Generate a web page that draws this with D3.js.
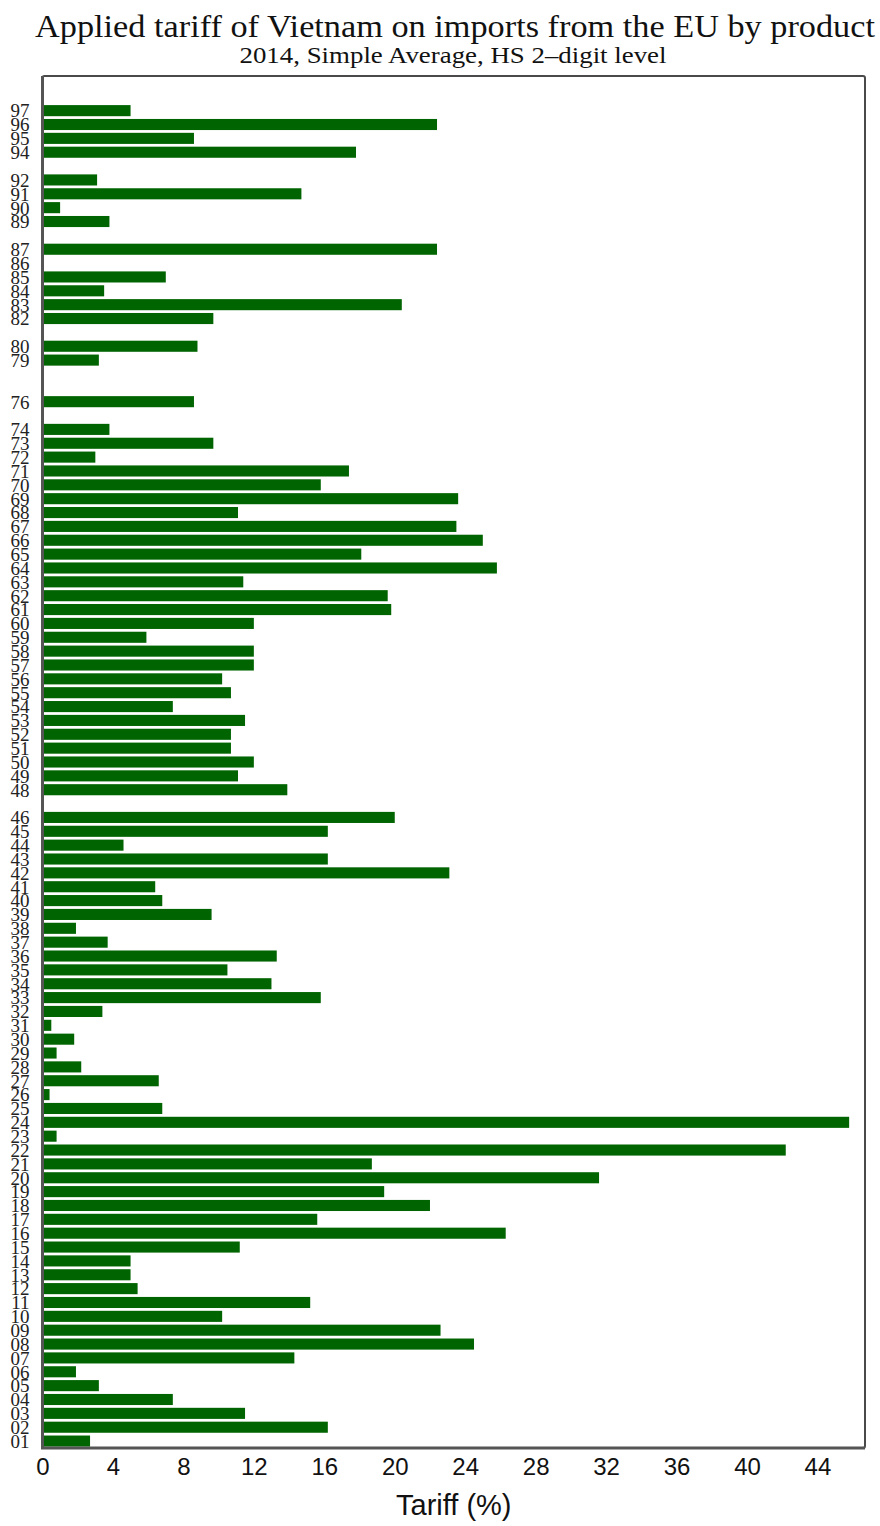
<!DOCTYPE html>
<html>
<head>
<meta charset="utf-8">
<script src="https://cdn.jsdelivr.net/npm/d3@7"></script>
<style>
  body { margin: 0; background: #fff; }
  svg { display: block; }
</style>
</head>
<body>
<svg width="880" height="1526"></svg>
<script>
// HS 2-digit product codes and their applied tariff (%), 2014
const codes = ['01','02','03','04','05','06','07','08','09','10',
  '11','12','13','14','15','16','17','18','19','20',
  '21','22','23','24','25','26','27','28','29','30',
  '31','32','33','34','35','36','37','38','39','40',
  '41','42','43','44','45','46','48','49','50','51',
  '52','53','54','55','56','57','58','59','60','61',
  '62','63','64','65','66','67','68','69','70','71',
  '72','73','74','76','79','80','82','83','84','85',
  '86','87','89','90','91','92','94','95','96','97']
const tariffs = [2.7, 16.2, 11.5, 7.4, 3.2, 1.9, 14.3, 24.5, 22.6, 10.2,
  15.2, 5.4, 5.0, 5.0, 11.2, 26.3, 15.6, 22.0, 19.4, 31.6,
  18.7, 42.2, 0.8, 45.8, 6.8, 0.4, 6.6, 2.2, 0.8, 1.8,
  0.5, 3.4, 15.8, 13.0, 10.5, 13.3, 3.7, 1.9, 9.6, 6.8,
  6.4, 23.1, 16.2, 4.6, 16.2, 20.0, 13.9, 11.1, 12.0, 10.7,
  10.7, 11.5, 7.4, 10.7, 10.2, 12.0, 12.0, 5.9, 12.0, 19.8,
  19.6, 11.4, 25.8, 18.1, 25.0, 23.5, 11.1, 23.6, 15.8, 17.4,
  3.0, 9.7, 3.8, 8.6, 3.2, 8.8, 9.7, 20.4, 3.5, 7.0,
  0, 22.4, 3.8, 1.0, 14.7, 3.1, 17.8, 8.6, 22.4, 5.0]
const xTicks = [0, 4, 8, 12, 16, 20, 24, 28, 32, 36, 40, 44]

const title = 'Applied tariff of Vietnam on imports from the EU by product'
const subtitle = '2014, Simple Average, HS 2\u2013digit level'
const xLabel = 'Tariff (%)'

const data = codes.map((c, i) => ({ code: c, value: tariffs[i] }))

const svg = d3.select('svg')
const margin = { top: 76, right: 15, bottom: 78, left: 42.5 }
const width = +svg.attr('width')
const height = +svg.attr('height')
const plotRight = width - margin.right
const plotBottom = height - margin.bottom

const x = d3.scaleLinear()
  .domain([0, 46.7])
  .range([margin.left, plotRight])

// one slot per HS chapter number, empty chapters keep their space
const y = d3.scaleBand()
  .domain(d3.range(1, 100))
  .range([plotBottom, margin.top])
  .paddingInner(0.2)
  .paddingOuter(0.1)

svg.append('text')
  .attr('x', 455).attr('y', 37)
  .attr('text-anchor', 'middle')
  .attr('font-family', 'Liberation Serif, DejaVu Serif, serif')
  .attr('font-size', 31)
  .attr('textLength', 840)
  .attr('lengthAdjust', 'spacingAndGlyphs')
  .attr('fill', '#111')
  .text(title)

svg.append('text')
  .attr('x', 453).attr('y', 63)
  .attr('text-anchor', 'middle')
  .attr('font-family', 'Liberation Serif, DejaVu Serif, serif')
  .attr('font-size', 23)
  .attr('textLength', 427)
  .attr('lengthAdjust', 'spacingAndGlyphs')
  .attr('fill', '#111')
  .text(subtitle)

// bars
svg.append('g')
  .selectAll('rect')
  .data(data)
  .join('rect')
  .attr('x', x(0))
  .attr('y', d => y(+d.code))
  .attr('width', d => x(d.value) - x(0))
  .attr('height', y.bandwidth())
  .attr('fill', '#006400')

// frame
svg.append('rect')
  .attr('x', margin.left).attr('y', margin.top)
  .attr('width', plotRight - margin.left)
  .attr('height', plotBottom - margin.top)
  .attr('rx', 2)
  .attr('fill', 'none')
  .attr('stroke', '#4a4a4a')
  .attr('stroke-width', 2)

// heavier left and bottom axis lines
svg.append('path')
  .attr('d', `M${margin.left},${margin.top}V${plotBottom}H${plotRight}`)
  .attr('fill', 'none')
  .attr('stroke', '#555')
  .attr('stroke-width', 3)

// y labels
const yAxisG = svg.append('g')
  .attr('transform', `translate(${margin.left},0)`)
  .call(d3.axisLeft(y).tickValues(codes.map(Number)).tickFormat(d => d3.format('02d')(d)).tickSize(0).tickPadding(13))
yAxisG.select('.domain').remove()
yAxisG.selectAll('text')
  .attr('font-family', 'Liberation Serif, DejaVu Serif, serif')
  .attr('font-size', 19)
  .attr('fill', '#222')
  .attr('dy', '0.36em')

// x axis
const xAxisG = svg.append('g')
  .attr('transform', `translate(0,${plotBottom})`)
  .call(d3.axisBottom(x).tickValues(xTicks).tickSize(0).tickPadding(10))
xAxisG.select('.domain').remove()
xAxisG.selectAll('text')
  .attr('font-family', 'Liberation Sans, Arial, sans-serif')
  .attr('font-size', 24)
  .attr('fill', '#111')

svg.append('text')
  .attr('x', (margin.left + plotRight) / 2)
  .attr('y', 1515)
  .attr('text-anchor', 'middle')
  .attr('font-family', 'Liberation Sans, Arial, sans-serif')
  .attr('font-size', 29)
  .attr('fill', '#111')
  .text(xLabel)
</script>
</body>
</html>
